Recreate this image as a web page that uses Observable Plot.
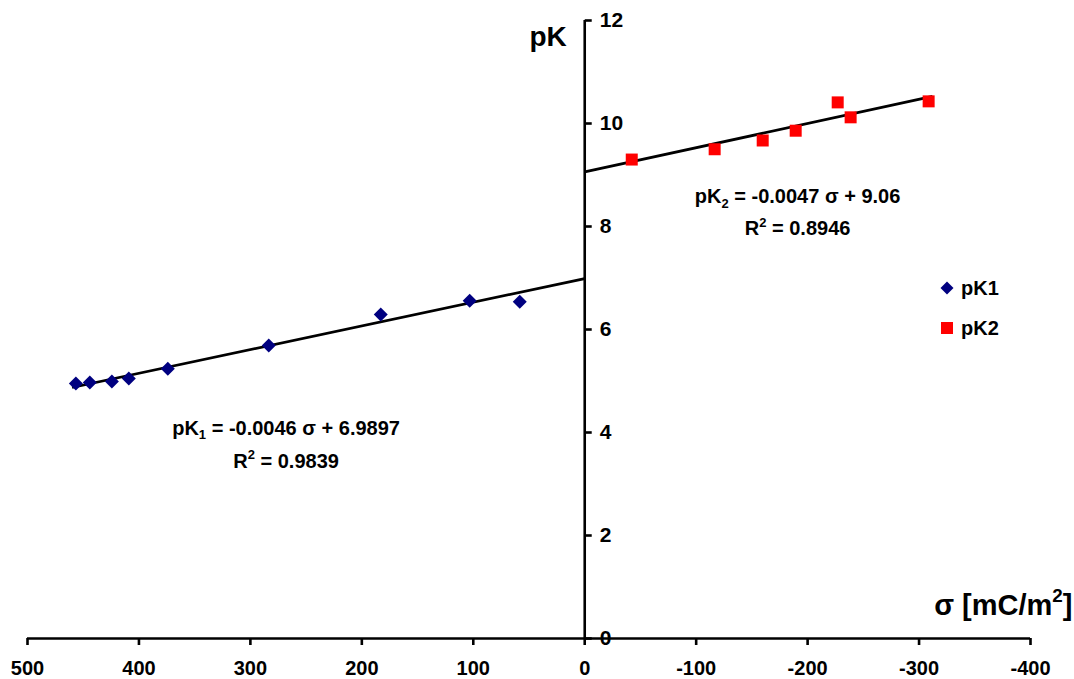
<!DOCTYPE html>
<html>
<head>
<meta charset="utf-8">
<script src="https://cdn.jsdelivr.net/npm/d3@7"></script>
<script src="https://cdn.jsdelivr.net/npm/@observablehq/plot@0.6"></script>
<style>
  body { margin: 0; background: #fff; }
  #wrap { position: relative; width: 1074px; height: 679px; font-family: "Liberation Sans", Arial, sans-serif; font-weight: bold; }
  .lg { position: absolute; font-size: 20px; line-height: 20px; color: #000; white-space: nowrap; }
  .lgsym { position: absolute; }
</style>
</head>
<body>
<div id="wrap"></div>
<script>
// ---- data ----
const seriesNames = ["pK1", "pK2"];
const seriesColors = ["#000080", "#ff0000"];

const pk1Sigma = [456.6, 444.1, 424.3, 409.1, 374.1, 283.5, 183.0, 103.2, 58.3];
const pk1Value = [4.95, 4.97, 4.99, 5.05, 5.24, 5.69, 6.29, 6.56, 6.54];

const pk2Sigma = [-42.2, -116.6, -159.7, -189.3, -227.0, -238.6, -308.6];
const pk2Value = [9.30, 9.50, 9.67, 9.86, 10.41, 10.12, 10.43];

// trend lines as given by the chart's equations
const trendSlope = [-0.0046, -0.0047];
const trendIntercept = [6.9897, 9.06];
const trendFrom = [460, 0];
const trendTo = [0, -312];

const equationText = ["pK_1 = -0.0046 σ + 6.9897", "pK_2 = -0.0047 σ + 9.06"];
const r2Text = ["R^2 = 0.9839", "R^2 = 0.8946"];

const xTicks = [500, 400, 300, 200, 100, 0, -100, -200, -300, -400];
const yTicks = [0, 2, 4, 6, 8, 10, 12];

// ---- derived tables ----
const pk1 = pk1Sigma.map((s, i) => ({sigma: s, pk: pk1Value[i]}));
const pk2 = pk2Sigma.map((s, i) => ({sigma: s, pk: pk2Value[i]}));
const trends = trendSlope.map((m, i) => ({
  x1: trendFrom[i], y1: m * trendFrom[i] + trendIntercept[i],
  x2: trendTo[i],   y2: m * trendTo[i] + trendIntercept[i]
}));
// annotation anchors (data space)
const annotations = [
  {x: 268, y: 3.96, text: equationText[0]},
  {x: 268, y: 3.32, text: r2Text[0]},
  {x: -191, y: 8.45, text: equationText[1]},
  {x: -191, y: 7.83, text: r2Text[1]}
];

const tickRight = { draw(ctx) { ctx.moveTo(0, 0); ctx.lineTo(7, 0); } };
const FONT = '"Liberation Sans", Arial, sans-serif';

const svg = Plot.plot({
  width: 1074,
  height: 679,
  marginLeft: 27,
  marginRight: 44,
  marginTop: 20,
  marginBottom: 41,
  x: {domain: [500, -400]},
  y: {domain: [0, 12], axis: null},
  style: {fontFamily: FONT, fontWeight: "bold", fontSize: "20px", background: "white", color: "black", overflow: "visible"},
  marks: [
    Plot.ruleY([0], {stroke: "black", strokeWidth: 2.6}),
    Plot.ruleX([0], {y1: 0, y2: 12, stroke: "black", strokeWidth: 2.6}),
    Plot.axisX({ticks: xTicks, tickSize: 7, tickPadding: 15, strokeWidth: 2.6, tickFormat: d => String(d), label: null, fontSize: 20}),
    Plot.dot(yTicks, {x: 0, y: d => d, symbol: tickRight, stroke: "black", strokeWidth: 2.6, r: 1}),
    Plot.text(yTicks, {x: 0, y: d => d, text: d => String(d), dx: 15, textAnchor: "start", fontSize: 21}),
    Plot.link(trends, {x1: "x1", y1: "y1", x2: "x2", y2: "y2", stroke: "black", strokeWidth: 2.8}),
    Plot.dot(pk1, {x: "sigma", y: "pk", symbol: "diamond2", fill: seriesColors[0], r: 6.3}),
    Plot.dot(pk2, {x: "sigma", y: "pk", symbol: "square", fill: seriesColors[1], r: 6.77}),
    Plot.text(annotations, {x: "x", y: "y", text: "text", lineAnchor: "bottom", fontSize: 20}),
    Plot.text(["pK"], {x: 0, y: 12, text: d => d, textAnchor: "end", lineAnchor: "bottom", dx: -18, dy: 25, fontSize: 28}),
    Plot.text(["σ [mC/m^2]"], {frameAnchor: "bottom-right", text: d => d, textAnchor: "end", lineAnchor: "bottom", dx: 42, dy: -24, fontSize: 29})
  ]
});

const wrap = document.getElementById("wrap");
wrap.appendChild(svg);

// sub/superscripts
d3.select(svg).selectAll("text").each(function () {
  const t = this.textContent;
  if (!/[_^]\d/.test(t)) return;
  const fs = parseFloat(getComputedStyle(this).fontSize) || 20;
  const parts = t.split(/([_^]\d)/);
  const sel = d3.select(this);
  sel.text(null);
  let back = 0;
  parts.forEach(p => {
    if (!p) return;
    if (p[0] === "_" || p[0] === "^") {
      const d = p[0] === "_" ? 0.22 * fs : -0.42 * fs;
      sel.append("tspan").attr("dy", d).style("font-size", (0.65 * fs) + "px").text(p[1]);
      back = -d;
    } else {
      const ts = sel.append("tspan").text(p);
      if (back) ts.attr("dy", back);
      back = 0;
    }
  });
});

// legend
function legendItem(i, symTop, textTop, shape) {
  const s = document.createElementNS("http://www.w3.org/2000/svg", "svg");
  s.setAttribute("width", 16); s.setAttribute("height", 16);
  s.setAttribute("class", "lgsym");
  s.style.left = "939px"; s.style.top = symTop + "px";
  const p = document.createElementNS("http://www.w3.org/2000/svg", "path");
  p.setAttribute("d", shape === "diamond" ? "M8,1.5L14.5,8L8,14.5L1.5,8Z" : "M2,2H14V14H2Z");
  p.setAttribute("fill", seriesColors[i]);
  s.appendChild(p);
  wrap.appendChild(s);
  const d = document.createElement("div");
  d.className = "lg";
  d.style.left = "961px"; d.style.top = textTop + "px";
  d.textContent = seriesNames[i];
  wrap.appendChild(d);
}
legendItem(0, 280, 278, "diamond");
legendItem(1, 320, 318, "square");
</script>
</body>
</html>
